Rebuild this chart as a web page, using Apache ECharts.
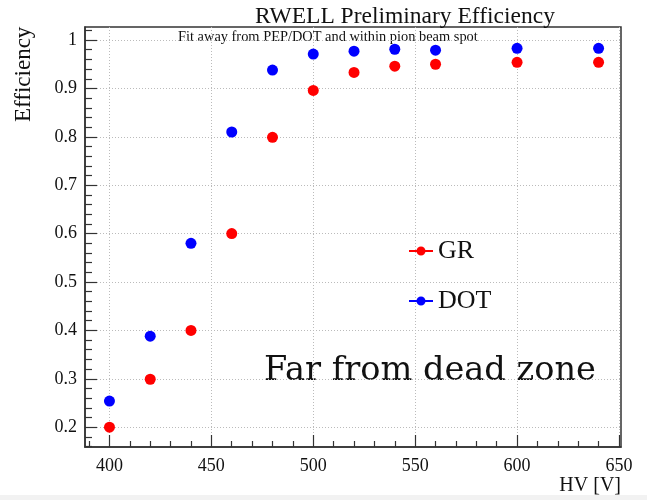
<!DOCTYPE html>
<html><head><meta charset="utf-8">
<script src="https://cdn.jsdelivr.net/npm/echarts@6/dist/echarts.min.js"></script>
<style>html,body{margin:0;padding:0;background:#fff}#c{width:647px;height:500px}</style>
</head><body><div id="c"></div>
<script>
const hv = [400, 420, 440, 460, 480, 500, 520, 540, 560, 600, 640];
const grEff = [0.200, 0.299, 0.400, 0.600, 0.799, 0.896, 0.933, 0.946, 0.950, 0.954, 0.954];
const dotEff = [0.254, 0.388, 0.580, 0.810, 0.938, 0.971, 0.977, 0.981, 0.979, 0.983, 0.983];
const xMajorTicks = [400, 450, 500, 550, 600, 650];
const yMajorTicks = [0.2, 0.3, 0.4, 0.5, 0.6, 0.7, 0.8, 0.9, 1.0];
const xMinorTicks = [390,410,420,430,440,460,470,480,490,510,520,530,540,560,570,580,590,610,620,630,640];
const yMinorTicks = [0.16,0.18,0.22,0.24,0.26,0.28,0.32,0.34,0.36,0.38,0.42,0.44,0.46,0.48,0.52,0.54,0.56,0.58,0.62,0.64,0.66,0.68,0.72,0.74,0.76,0.78,0.82,0.84,0.86,0.88,0.92,0.94,0.96,0.98,1.02];

const SERIF = '"Liberation Serif", "Times New Roman", serif';
const X_MIN = 388, X_MAX = 651, Y_MIN = 0.159, Y_MAX = 1.027;
const G_LEFT = 85, G_RIGHT = 26, G_TOP = 27, G_BOTTOM = 53, W = 647, H = 500;
const GW = W - G_LEFT - G_RIGHT, GH = H - G_TOP - G_BOTTOM;
const axisCol = '#333';
const ch = echarts.init(document.getElementById('c'), null, {renderer: 'canvas'});
const legendIcon = 'path://M0,4 H24 V6 H0 Z M12,0.5 A4.5,4.5 0 1,1 12,9.5 A4.5,4.5 0 1,1 12,0.5 Z';

// tick-only axis placed on the opposite side and shifted across the grid, so its outward ticks point inside
function xTickAxis(vals, len) {
  return {type: 'value', min: X_MIN, max: X_MAX, position: 'top', offset: -GH,
    axisLine: {show: false},
    axisTick: {show: true, length: len, customValues: vals, lineStyle: {color: axisCol, width: 1.2}},
    axisLabel: {show: false, customValues: vals}, splitLine: {show: false}};
}
function yTickAxis(vals, len) {
  return {type: 'value', min: Y_MIN, max: Y_MAX, position: 'right', offset: -GW,
    axisLine: {show: false},
    axisTick: {show: true, length: len, customValues: vals, lineStyle: {color: axisCol, width: 1.2}},
    axisLabel: {show: false, customValues: vals}, splitLine: {show: false}};
}

ch.setOption({
  animation: false,
  backgroundColor: '#fff',
  grid: {left: G_LEFT, right: G_RIGHT, top: G_TOP, bottom: G_BOTTOM, show: true, borderColor: axisCol, borderWidth: 1.5, backgroundColor: 'transparent'},
  title: [
    {text: 'RWELL Preliminary Efficiency', left: 400, top: 0, textAlign: 'center',
     textStyle: {fontFamily: SERIF, fontSize: 23.5, fontWeight: 'normal', color: '#111'}}
  ],
  legend: [
    {data: ['GR'], left: 404, top: 233, icon: legendIcon, itemWidth: 24, itemHeight: 10, itemGap: 4,
     textStyle: {fontFamily: SERIF, fontSize: 26, color: '#111'}},
    {data: ['DOT'], left: 404, top: 283, icon: legendIcon, itemWidth: 24, itemHeight: 10, itemGap: 4,
     textStyle: {fontFamily: SERIF, fontSize: 26, color: '#111'}}
  ],
  xAxis: [
    {type: 'value', min: X_MIN, max: X_MAX, position: 'bottom',
     axisLine: {show: true, onZero: false, lineStyle: {color: axisCol, width: 1.5}},
     axisTick: {show: false, customValues: xMajorTicks},
     axisLabel: {customValues: xMajorTicks, fontFamily: SERIF, fontSize: 18, color: '#111', margin: 10},
     splitLine: {show: true, lineStyle: {color: '#bbb', type: [1, 2], width: 1}}},
    xTickAxis(xMajorTicks, 12),
    xTickAxis(xMinorTicks, 6)
  ],
  yAxis: [
    {type: 'value', min: Y_MIN, max: Y_MAX, position: 'left',
     axisLine: {show: true, onZero: false, lineStyle: {color: axisCol, width: 1.5}},
     axisTick: {show: false, customValues: yMajorTicks},
     axisLabel: {customValues: yMajorTicks, fontFamily: SERIF, fontSize: 18, color: '#111', margin: 8,
       formatter: v => (Math.abs(v - 1) < 1e-9 ? '1' : v.toFixed(1))},
     splitLine: {show: true, lineStyle: {color: '#bbb', type: [1, 2], width: 1}}},
    yTickAxis(yMajorTicks, 12),
    yTickAxis(yMinorTicks, 7)
  ],
  series: [
    {name: 'GR', type: 'scatter', xAxisIndex: 0, yAxisIndex: 0, symbol: 'circle', symbolSize: 11,
     itemStyle: {color: '#ff0000', opacity: 1}, data: hv.map((x, i) => [x, grEff[i]])},
    {name: 'DOT', type: 'scatter', xAxisIndex: 0, yAxisIndex: 0, symbol: 'circle', symbolSize: 11,
     itemStyle: {color: '#0000ff', opacity: 1}, data: hv.map((x, i) => [x, dotEff[i]])}
  ],
  graphic: [
    {type: 'text', left: 178, top: 30, style: {text: 'Fit away from PEP/DOT and within pion beam spot', font: '14.4px ' + SERIF, fill: '#111'}},
    {type: 'text', left: 264, top: 354, style: {text: 'Far from dead zone', font: '33.6px "DejaVu Serif", serif', fill: '#111'}},
    {type: 'text', right: 26, top: 476, style: {text: 'HV [V]', font: '20px ' + SERIF, fill: '#111'}},
    {type: 'text', x: 12, y: 122, rotation: Math.PI / 2, style: {text: 'Efficiency', font: '23px ' + SERIF, fill: '#111', textAlign: 'left', textVerticalAlign: 'top'}},
    {type: 'rect', shape: {x: 0, y: 495, width: 647, height: 5}, style: {fill: '#f2f2f2'}, silent: true}
  ]
});
</script></body></html>
